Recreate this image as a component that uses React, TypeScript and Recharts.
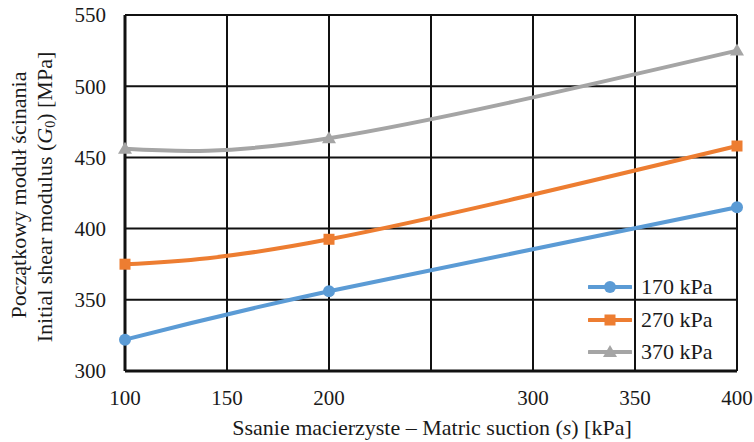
import React from 'react';
import { LineChart, Line, XAxis, YAxis, CartesianGrid, Legend } from 'recharts';

// matric suction [kPa]
const suction = [100, 200, 400];
// G0 [MPa] for each net stress
const g170 = [322, 356, 415];
const g270 = [375, 392.5, 458];
const g370 = [456, 463.5, 525];

const xTicks = [100, 150, 200, 250, 300, 350, 400];
const yTicks = [300, 350, 400, 450, 500, 550];
const seriesNames = ['170 kPa', '270 kPa', '370 kPa'];

const data = suction.map((s, i) => ({ s, a: g170[i], b: g270[i], c: g370[i] }));

const FONT = 'Liberation Serif, Times New Roman, Times, serif';
const TXT = '#1a1a1a';

const colors = { a: '#5B9BD5', b: '#ED7D31', c: '#A5A5A5' };

const circleDot = (p: any) => (
  <circle key={p.key ?? `a${p.index}`} cx={p.cx} cy={p.cy} r={6} fill={colors.a} />
);
const squareDot = (p: any) => (
  <rect key={p.key ?? `b${p.index}`} x={p.cx - 5.5} y={p.cy - 5.5} width={11} height={11} fill={colors.b} />
);
const triDot = (p: any) => (
  <polygon
    key={p.key ?? `c${p.index}`}
    points={`${p.cx},${p.cy - 7} ${p.cx + 7},${p.cy + 5} ${p.cx - 7},${p.cy + 5}`}
    fill={colors.c}
  />
);

function legendIcon(i: number) {
  const col = [colors.a, colors.b, colors.c][i];
  return (
    <svg width={44} height={14} style={{ display: 'block' }}>
      <line x1={1} y1={7} x2={43} y2={7} stroke={col} strokeWidth={4} strokeLinecap="round" />
      {i === 0 && <circle cx={22} cy={7} r={6} fill={col} />}
      {i === 1 && <rect x={16.5} y={1.5} width={11} height={11} fill={col} />}
      {i === 2 && <polygon points="22,0 29,12 15,12" fill={col} />}
    </svg>
  );
}

const renderLegend = () => (
  <div style={{ fontFamily: FONT, fontSize: 22, color: TXT }}>
    {seriesNames.map((n, i) => (
      <div key={n} style={{ display: 'flex', alignItems: 'center', height: 32.5 }}>
        {legendIcon(i)}
        <span style={{ marginLeft: 9 }}>{n}</span>
      </div>
    ))}
  </div>
);

const yTitle = () => (
  <g>
    <text transform="translate(26,195) rotate(-90)" textAnchor="middle" fontSize={22} fill={TXT} style={{ fontFamily: FONT }}>
      Początkowy moduł ścinania
    </text>
    <text transform="translate(52,197) rotate(-90)" textAnchor="middle" fontSize={22} fill={TXT} style={{ fontFamily: FONT }}>
      Initial shear modulus (<tspan fontStyle="italic">G</tspan>
      <tspan fontSize={14} dy={3}>0</tspan>
      <tspan dy={-3}>) [MPa]</tspan>
    </text>
  </g>
);

const xTitle = () => (
  <text x={432} y={435} textAnchor="middle" fontSize={22} fill={TXT} style={{ fontFamily: FONT }}>
    Ssanie macierzyste – Matric suction (<tspan fontStyle="italic">s</tspan>) [kPa]
  </text>
);

export default function App() {
  return (
    <div style={{ position: 'absolute', left: 0, top: 0, background: '#fff', fontFamily: FONT }}>
      <LineChart
        width={754}
        height={442}
        data={data}
        margin={{ top: 15, right: 17, left: 0, bottom: 0 }}
        style={{ fontFamily: FONT }}
      >
        <CartesianGrid stroke="#111" strokeWidth={2} horizontalValues={yTicks} verticalValues={xTicks} />
        <XAxis
          dataKey="s"
          type="number"
          domain={[100, 400]}
          ticks={xTicks}
          tickFormatter={(v: number) => (v === 250 ? '' : String(v))}
          height={71}
          tickSize={0}
          tickMargin={19}
          axisLine={{ stroke: '#111', strokeWidth: 3 }}
          tick={{ fontSize: 21, fill: TXT, style: { fontFamily: FONT } }}
          label={{ content: xTitle }}
        />
        <YAxis
          type="number"
          domain={[300, 550]}
          ticks={yTicks}
          width={125}
          tickSize={0}
          tickMargin={19}
          axisLine={{ stroke: '#111', strokeWidth: 3 }}
          tick={{ fontSize: 21, fill: TXT, style: { fontFamily: FONT } }}
          label={{ content: yTitle }}
        />
        <Legend
          layout="vertical"
          align="center"
          verticalAlign="middle"
          content={renderLegend}
          wrapperStyle={{ position: 'absolute', left: 588, top: 271, width: 'auto' }}
        />
        <Line type="natural" dataKey="a" name={seriesNames[0]} stroke={colors.a} strokeWidth={4} dot={circleDot} isAnimationActive={false} />
        <Line type="natural" dataKey="b" name={seriesNames[1]} stroke={colors.b} strokeWidth={4} dot={squareDot} isAnimationActive={false} />
        <Line type="natural" dataKey="c" name={seriesNames[2]} stroke={colors.c} strokeWidth={4} dot={triDot} isAnimationActive={false} />
      </LineChart>
    </div>
  );
}
